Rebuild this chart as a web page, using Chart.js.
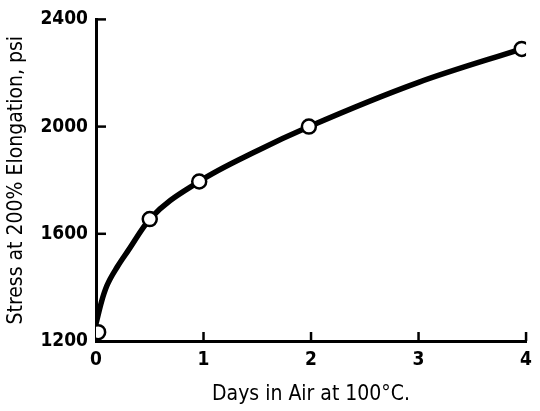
<!DOCTYPE html>
<html>
<head>
<meta charset="utf-8">
<script src="https://cdn.jsdelivr.net/npm/chart.js@4"></script>
<style>
  body { margin: 0; background: #fff; }
  #box { width: 540px; height: 411px; }
</style>
</head>
<body>
<div id="box"><canvas id="grafico"></canvas></div>
<script>
// datos medidos
const dias = [0.02, 0.5, 0.96, 1.98, 3.96];
const esfuerzo = [1233, 1655, 1795, 2000, 2290];

// curva suave
const curvaDias = [0, 0.05, 0.1, 0.2, 0.3, 0.5, 0.96, 1.5, 2, 3, 3.96];
const curvaEsf = [1265, 1345, 1405, 1478, 1538, 1655, 1795, 1910, 2003, 2165, 2290];

const ticksX = [0, 1, 2, 3, 4];
const ticksY = [1200, 1600, 2000, 2400];

const fuente = "'DejaVu Sans Condensed', 'Liberation Sans Narrow', sans-serif";

// marcas hacia adentro de los ejes
const marcasInternas = {
  id: "marcasInternas",
  beforeDatasetsDraw(chart) {
    const ctx = chart.ctx;
    const x = chart.scales.x, y = chart.scales.y;
    ctx.save();
    ctx.strokeStyle = "#000";
    ctx.lineWidth = 2.5;
    ticksY.forEach(v => {
      if (v === 1200) return;
      const py = y.getPixelForValue(v);
      ctx.beginPath();
      ctx.moveTo(x.left, py);
      ctx.lineTo(x.left + 10, py);
      ctx.stroke();
    });
    ticksX.forEach(v => {
      if (v === 0) return;
      const px = x.getPixelForValue(v);
      ctx.beginPath();
      ctx.moveTo(px, y.bottom);
      ctx.lineTo(px, y.bottom - 9);
      ctx.stroke();
    });
    ctx.restore();
  }
};

new Chart(document.getElementById("grafico"), {
  type: "scatter",
  data: {
    datasets: [
      {
        type: "line",
        order: 2,
        data: curvaDias.map((d, i) => ({ x: d, y: curvaEsf[i] })),
        borderColor: "#000",
        borderWidth: 5.5,
        pointRadius: 0,
        cubicInterpolationMode: "monotone",
        fill: false
      },
      {
        order: 1,
        data: dias.map((d, i) => ({ x: d, y: esfuerzo[i] })),
        pointRadius: 7,
        pointBackgroundColor: "#fff",
        pointBorderColor: "#000",
        pointBorderWidth: 2.5
      }
    ]
  },
  options: {
    responsive: true,
    maintainAspectRatio: false,
    animation: false,
    layout: { padding: { top: 14, right: 12 } },
    plugins: { legend: { display: false }, tooltip: { enabled: false } },
    scales: {
      x: {
        type: "linear",
        min: 0, max: 4,
        afterBuildTicks: s => { s.ticks = ticksX.map(v => ({ value: v })); },
        afterFit: s => { s.height = 70; },
        grid: { display: false, drawTicks: false },
        border: { display: true, color: "#000", width: 3 },
        ticks: {
          color: "#000", padding: 8, callback: v => String(v),
          font: { family: fuente, size: 19, weight: "bold" }
        },
        title: {
          display: true, text: "Days in Air at 100°C.", color: "#000",
          padding: { top: 0 }, font: { family: fuente, size: 21 }
        }
      },
      y: {
        min: 1200, max: 2400,
        afterBuildTicks: s => { s.ticks = ticksY.map(v => ({ value: v })); },
        afterFit: s => { s.width = 96; },
        grid: { display: false, drawTicks: false },
        border: { display: true, color: "#000", width: 3 },
        ticks: {
          color: "#000", padding: 8, callback: v => String(v),
          font: { family: fuente, size: 19, weight: "bold" }
        },
        title: {
          display: true, text: "Stress at 200% Elongation, psi", color: "#000",
          padding: { bottom: 0 }, font: { family: fuente, size: 21 }
        }
      }
    }
  },
  plugins: [marcasInternas]
});
</script>
</body>
</html>
